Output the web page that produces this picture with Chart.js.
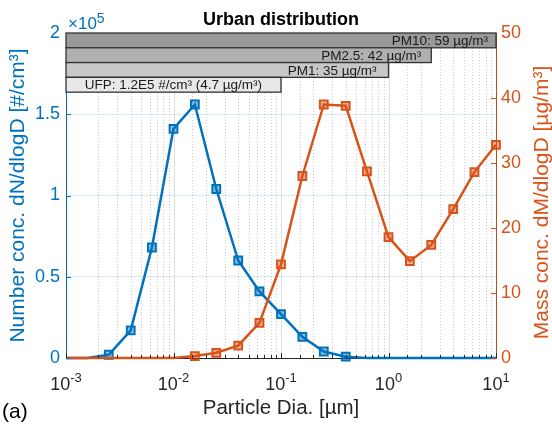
<!DOCTYPE html>
<html>
<head>
<meta charset="utf-8">
<script src="https://cdn.jsdelivr.net/npm/chart.js@4.4.1/dist/chart.umd.min.js"></script>
<style>
  html, body { margin: 0; padding: 0; background: #fff; }
  canvas { display: block; }
</style>
</head>
<body>
<canvas id="urbanChart" width="552" height="425"></canvas>
<script>
// particle diameter [µm]
const diameters = [0.001, 0.00158, 0.0025, 0.004, 0.0063, 0.01, 0.0158, 0.025, 0.04, 0.063,
                   0.1, 0.158, 0.25, 0.4, 0.63, 1, 1.58, 2.5, 4, 6.3, 10];
// dN/dlogD [#/cm3]
const numberConc = [0, 0, 2000, 17000, 68000, 141000, 156000, 104000, 60000, 41000,
                    27000, 13000, 4000, 800, 0, 0, 0, 0, 0, 0, 0];
// dM/dlogD [µg/m3]
const massConc = [0, 0, 0, 0, 0, 0, 0.3, 0.8, 1.9, 5.4,
                  14.4, 28.0, 39.0, 38.8, 28.7, 18.6, 14.9, 17.4, 22.9, 28.6, 32.8];

// size cut bars on top
const bandLabels = ["PM10: 59 µg/m³", "PM2.5: 42 µg/m³", "PM1: 35 µg/m³", "UFP: 1.2E5 #/cm³ (4.7 µg/m³)"];
const bandCutoffs = [10, 2.5, 1, 0.1];

const xTickValues = [0.001, 0.01, 0.1, 1, 10];
const xTickExponents = ["-3", "-2", "-1", "0", "1"];

const BLUE = "#0072BD";
const ORANGE = "#D95319";
const DARK = "#262626";
const FONT = "'Liberation Sans', Arial, Helvetica, sans-serif";

Chart.defaults.font.family = FONT;

const bandFills = ["#999999", "#b0b0b0", "#c8c8c8", "#e8e8e8"];
const bandPads = [8, 10, 12, 19];

// everything Chart.js can't draw itself: grid style, inward ticks, bars, labels
const decorPlugin = {
    id: "decor",
    beforeDatasetsDraw(chart) {
        const c = chart.ctx;
        const a = chart.chartArea;
        const xs = chart.scales.x;
        c.save();
        xs.ticks.forEach(t => {
            const px = Math.round(xs.getPixelForValue(t.value)) + 0.5;
            const lg = Math.log10(t.value);
            const major = Math.abs(lg - Math.round(lg)) < 1e-6;
            c.beginPath();
            if (major) {
                c.setLineDash([]);
                c.strokeStyle = "rgba(38,38,38,0.15)";
            } else {
                c.setLineDash([1, 2]);
                c.strokeStyle = "rgba(38,38,38,0.22)";
            }
            c.lineWidth = 1;
            c.moveTo(px, a.top);
            c.lineTo(px, a.bottom);
            c.stroke();
        });
        c.restore();
    },
    afterDatasetsDraw(chart) {
        const c = chart.ctx;
        const a = chart.chartArea;
        const xs = chart.scales.x;
        const yN = chart.scales.yN;
        const yM = chart.scales.yM;
        c.save();

        // inward ticks on x
        c.strokeStyle = DARK;
        c.lineWidth = 1;
        xs.ticks.forEach(t => {
            const px = Math.round(xs.getPixelForValue(t.value)) + 0.5;
            const lg = Math.log10(t.value);
            const major = Math.abs(lg - Math.round(lg)) < 1e-6;
            c.beginPath();
            c.moveTo(px, a.bottom);
            c.lineTo(px, a.bottom - (major ? 5 : 3));
            c.stroke();
        });
        // inward ticks on y axes
        c.strokeStyle = BLUE;
        yN.ticks.forEach(t => {
            const py = Math.round(yN.getPixelForValue(t.value)) + 0.5;
            c.beginPath();
            c.moveTo(a.left, py);
            c.lineTo(a.left + 5, py);
            c.stroke();
        });
        c.strokeStyle = ORANGE;
        yM.ticks.forEach(t => {
            const py = Math.round(yM.getPixelForValue(t.value)) + 0.5;
            c.beginPath();
            c.moveTo(a.right, py);
            c.lineTo(a.right - 5, py);
            c.stroke();
        });

        // PM bars, stacked down from the top of the axes
        const bandTop = 200000, bandStep = 9100;
        bandCutoffs.forEach((cut, i) => {
            const x0 = xs.getPixelForValue(xs.min);
            const x1 = xs.getPixelForValue(cut);
            const y0 = yN.getPixelForValue(bandTop - i * bandStep);
            const y1 = yN.getPixelForValue(bandTop - (i + 1) * bandStep);
            c.fillStyle = bandFills[i];
            c.fillRect(x0, y0, x1 - x0, y1 - y0);
            c.strokeStyle = "#333";
            c.lineWidth = 1.3;
            c.strokeRect(x0, y0, x1 - x0, y1 - y0);
            c.fillStyle = "#1a1a1a";
            c.font = "13.5px " + FONT;
            c.textAlign = "right";
            c.textBaseline = "middle";
            c.fillText(bandLabels[i], x1 - bandPads[i], (y0 + y1) / 2 + 1);
        });

        // x tick labels with superscript exponents
        c.fillStyle = DARK;
        c.textBaseline = "alphabetic";
        c.textAlign = "left";
        xTickValues.forEach((v, i) => {
            const px = xs.getPixelForValue(v);
            c.font = "18px " + FONT;
            const w1 = c.measureText("10").width;
            c.font = "13px " + FONT;
            const w2 = c.measureText(xTickExponents[i]).width;
            const sx = px - (w1 + w2) / 2;
            c.font = "18px " + FONT;
            c.fillText("10", sx, a.bottom + 32);
            c.font = "13px " + FONT;
            c.fillText(xTickExponents[i], sx + w1, a.bottom + 24);
        });

        // right axis title, reading bottom to top like the left one
        c.save();
        c.translate(a.right + 46, (a.top + a.bottom) / 2 + 7);
        c.rotate(-Math.PI / 2);
        c.fillStyle = ORANGE;
        c.font = "21px " + FONT;
        c.textAlign = "center";
        c.textBaseline = "middle";
        c.fillText("Mass conc. dM/dlogD [µg/m³]", 0, 0);
        c.restore();

        // title
        c.fillStyle = "#000";
        c.font = "bold 18px " + FONT;
        c.textAlign = "center";
        c.textBaseline = "middle";
        c.fillText("Urban distribution", (a.left + a.right) / 2, 20);

        // x10^5 multiplier
        c.fillStyle = BLUE;
        c.textAlign = "left";
        c.textBaseline = "alphabetic";
        c.font = "17px " + FONT;
        c.fillText("×10", a.left + 2, 29);
        const wm = c.measureText("×10").width;
        c.font = "14px " + FONT;
        c.fillText("5", a.left + 2 + wm, 23);

        // panel letter
        c.fillStyle = "#000";
        c.font = "21px " + FONT;
        c.fillText("(a)", 2, 418);

        c.restore();
    }
};

const ctx = document.getElementById("urbanChart").getContext("2d");

const markerRadius = (c) => (c.raw && c.raw.y > 0 ? 5.5 : 0);

new Chart(ctx, {
    type: "line",
    data: {
        datasets: [
            {
                label: "Number conc.",
                data: diameters.map((d, i) => ({ x: d, y: numberConc[i] })),
                yAxisID: "yN",
                borderColor: BLUE,
                backgroundColor: "rgba(0,114,189,0.45)",
                borderWidth: 2.5,
                pointStyle: "rect",
                pointRadius: markerRadius,
                pointBorderWidth: 2,
                pointBorderColor: BLUE,
                pointBackgroundColor: "rgba(0,114,189,0.45)",
                tension: 0,
                clip: false,
                order: 2
            },
            {
                label: "Mass conc.",
                data: diameters.map((d, i) => ({ x: d, y: massConc[i] })),
                yAxisID: "yM",
                borderColor: ORANGE,
                backgroundColor: "rgba(217,83,25,0.45)",
                borderWidth: 2.5,
                pointStyle: "rect",
                pointRadius: markerRadius,
                pointBorderWidth: 2,
                pointBorderColor: ORANGE,
                pointBackgroundColor: "rgba(217,83,25,0.45)",
                tension: 0,
                clip: false,
                order: 1
            }
        ]
    },
    options: {
        responsive: false,
        animation: false,
        devicePixelRatio: 1,
        layout: { padding: { top: 33, left: 0, right: 0, bottom: 0 } },
        plugins: {
            legend: { display: false },
            tooltip: { enabled: false }
        },
        scales: {
            x: {
                type: "logarithmic",
                min: 0.001,
                max: 10,
                grid: { display: false },
                border: { color: DARK, width: 1 },
                ticks: { display: false, autoSkip: false },
                title: {
                    display: true,
                    text: "Particle Dia. [µm]",
                    color: DARK,
                    font: { size: 20.5, lineHeight: 1 },
                    padding: { top: 0, bottom: 6.5 }
                },
                afterFit: (s) => { s.height = 67; }
            },
            yN: {
                position: "left",
                min: 0,
                max: 200000,
                ticks: {
                    stepSize: 50000,
                    color: BLUE,
                    font: { size: 18 },
                    padding: 6,
                    callback: (v) => String(v / 100000)
                },
                grid: { color: "rgba(0,114,189,0.14)", drawTicks: false },
                border: { color: BLUE, width: 1 },
                title: {
                    display: true,
                    text: "Number conc. dN/dlogD [#/cm³]",
                    color: BLUE,
                    font: { size: 21, lineHeight: 1 },
                    padding: { top: 7.5, bottom: 0 }
                },
                afterFit: (s) => { s.width = 66; }
            },
            yM: {
                position: "right",
                min: 0,
                max: 50,
                ticks: {
                    stepSize: 10,
                    color: ORANGE,
                    font: { size: 18 },
                    padding: 5
                },
                grid: { display: false, drawTicks: false },
                border: { color: ORANGE, width: 1 },
                title: { display: false },
                afterFit: (s) => { s.width = 56; }
            }
        }
    },
    plugins: [decorPlugin]
});
</script>
</body>
</html>
